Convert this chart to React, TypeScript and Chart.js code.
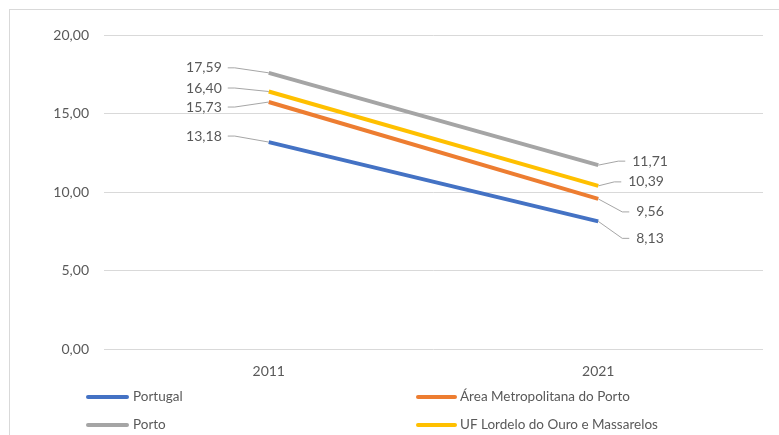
import React, { useEffect, useRef } from "react";
import { Chart, registerables } from "chart.js";

Chart.register(...registerables);

const categories = ["2011", "2021"];
const seriesNames = [
  "Portugal",
  "Área Metropolitana do Porto",
  "Porto",
  "UF Lordelo do Ouro e Massarelos",
];
const portugal = [13.18, 8.13];
const areaMetropolitana = [15.73, 9.56];
const porto = [17.59, 11.71];
const ufLordelo = [16.4, 10.39];
const yMin = 0;
const yMax = 20;
const yStep = 5;

const seriesValues = [portugal, areaMetropolitana, porto, ufLordelo];
const seriesColors = ["#4472C4", "#ED7D31", "#A5A5A5", "#FFC000"];

const FONT = "Lato, 'Noto Sans', sans-serif";
const TEXT = "#595959";
const GRID = "#D9D9D9";
const LEADER = "#A6A6A6";

const fmt = (v: number) => v.toFixed(2).replace(".", ",");

// label placement (pixels relative to each point), per series, per category
const LABEL_OFFSETS = [
  [{ dx: -47, dy: -6 }, { dx: 38, dy: 17 }],
  [{ dx: -47, dy: 5 }, { dx: 38, dy: 13 }],
  [{ dx: -47, dy: -5 }, { dx: 34, dy: -4 }],
  [{ dx: -47, dy: -3.5 }, { dx: 30, dy: -4 }],
];

// legend layout: [lineStart, lineEnd, textX, y]
const LEGEND_POS = [
  [88, 127, 133, 397],
  [418, 455, 460, 397],
  [88, 127, 133, 425],
  [418, 455, 460, 425],
];

const framePlugin = {
  id: "frame",
  beforeDraw(chart: any) {
    const ctx = chart.ctx;
    ctx.save();
    ctx.fillStyle = "#FFFFFF";
    ctx.fillRect(0, 0, chart.width, chart.height);
    ctx.strokeStyle = GRID;
    ctx.lineWidth = 1;
    ctx.strokeRect(9.5, 9.5, chart.width + 20, chart.height + 20);
    ctx.restore();
  },
};

const leaderLabelPlugin = {
  id: "leaderLabels",
  afterDatasetsDraw(chart: any) {
    const ctx = chart.ctx;
    ctx.save();
    ctx.font = `14px ${FONT}`;
    ctx.textBaseline = "middle";
    chart.data.datasets.forEach((ds: any, di: number) => {
      const meta = chart.getDatasetMeta(di);
      meta.data.forEach((pt: any, i: number) => {
        const off = LABEL_OFFSETS[di][i];
        const text = fmt(ds.data[i]);
        const ly = pt.y + off.dy;
        ctx.strokeStyle = LEADER;
        ctx.lineWidth = 1;
        ctx.beginPath();
        if (i === 0) {
          const right = pt.x + off.dx;
          ctx.moveTo(right + 6, ly);
          ctx.lineTo(right + 13, ly);
          ctx.lineTo(pt.x, pt.y);
          ctx.stroke();
          ctx.fillStyle = TEXT;
          ctx.textAlign = "right";
          ctx.fillText(text, right, ly);
        } else {
          const left = pt.x + off.dx;
          ctx.moveTo(left - 7, ly);
          ctx.lineTo(left - 14, ly);
          ctx.lineTo(pt.x, pt.y);
          ctx.stroke();
          ctx.fillStyle = TEXT;
          ctx.textAlign = "left";
          ctx.fillText(text, left, ly);
        }
      });
    });
    ctx.restore();
  },
};

const legendPlugin = {
  id: "customLegend",
  afterDraw(chart: any) {
    const ctx = chart.ctx;
    ctx.save();
    ctx.font = `13.5px ${FONT}`;
    ctx.textBaseline = "middle";
    ctx.textAlign = "left";
    chart.data.datasets.forEach((ds: any, di: number) => {
      const [x0, x1, tx, y] = LEGEND_POS[di];
      ctx.strokeStyle = ds.borderColor;
      ctx.lineWidth = 4;
      ctx.lineCap = "round";
      ctx.beginPath();
      ctx.moveTo(x0, y);
      ctx.lineTo(x1, y);
      ctx.stroke();
      ctx.fillStyle = TEXT;
      ctx.fillText(ds.label, tx, y);
    });
    ctx.restore();
  },
};

export default function App() {
  const ref = useRef<HTMLCanvasElement | null>(null);

  useEffect(() => {
    if (!ref.current) return;
    const chart = new Chart(ref.current, {
      type: "line",
      data: {
        labels: categories,
        datasets: seriesNames.map((name, i) => ({
          label: name,
          data: seriesValues[i],
          borderColor: seriesColors[i],
          backgroundColor: seriesColors[i],
          borderWidth: 4,
          pointRadius: 0,
          pointHoverRadius: 0,
          fill: false,
          tension: 0,
        })),
      },
      options: {
        animation: false,
        responsive: false,
        devicePixelRatio: 1,
        layout: { padding: { left: 0, top: 35, right: 16, bottom: 56 } },
        plugins: {
          legend: { display: false },
          tooltip: { enabled: false },
        },
        scales: {
          x: {
            offset: true,
            grid: { display: false, drawTicks: false },
            border: { display: false },
            ticks: {
              color: TEXT,
              font: { family: FONT, size: 14 },
              padding: 14,
            },
            afterFit: (s: any) => {
              s.height = 30;
            },
          },
          y: {
            min: yMin,
            max: yMax,
            grid: { color: GRID, lineWidth: 1, drawTicks: false },
            border: { display: false },
            ticks: {
              stepSize: yStep,
              color: TEXT,
              font: { family: FONT, size: 14 },
              padding: 15,
              callback: (v: any) => fmt(Number(v)),
            },
            afterFit: (s: any) => {
              s.width = 104;
            },
          },
        },
      },
      plugins: [framePlugin, leaderLabelPlugin, legendPlugin],
    });
    return () => chart.destroy();
  }, []);

  return (
    <div style={{ position: "fixed", left: 0, top: 0, width: 779, height: 435, overflow: "hidden" }}>
      <canvas ref={ref} width={779} height={435} style={{ display: "block", width: 779, height: 435 }} />
    </div>
  );
}
